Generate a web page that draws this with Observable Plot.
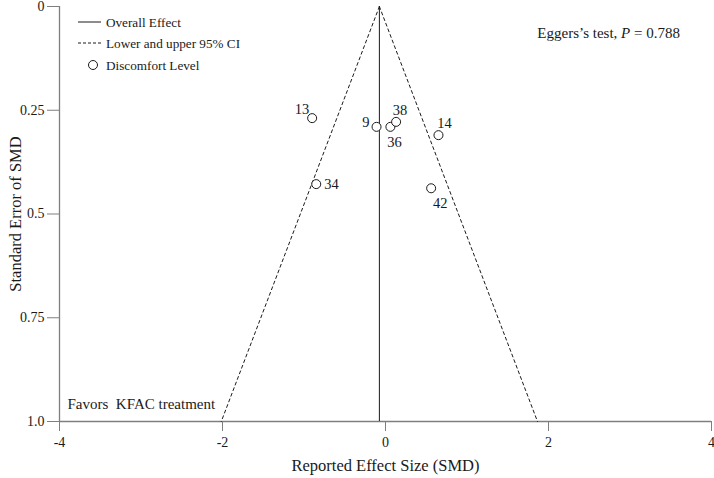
<!DOCTYPE html>
<html>
<head>
<meta charset="utf-8">
<script src="https://cdn.jsdelivr.net/npm/d3@7"></script>
<script src="https://cdn.jsdelivr.net/npm/@observablehq/plot@0.6"></script>
<style>
  html, body { margin: 0; padding: 0; background: white; }
</style>
</head>
<body>
<div id="chart"></div>
<script>
// ---- data ----
const studies = ["13", "9", "36", "38", "14", "34", "42"];
const smd = [-0.90, -0.11, 0.06, 0.13, 0.65, -0.85, 0.56];
const se = [0.269, 0.290, 0.290, 0.278, 0.310, 0.428, 0.438];
const overallEffect = -0.075;
const ciZ = 1.94;
const seRange = [0, 1];
const xTicks = [-4, -2, 0, 2, 4];
const xTickLabels = ["-4", "-2", "0", "2", "4"];
const yTicks = [0, 0.25, 0.5, 0.75, 1];
const yTickLabels = ["0", "0.25", "0.5", "0.75", "1.0"];
const legendLabels = ["Overall Effect", "Lower and upper 95% CI", "Discomfort Level"];
const xTitle = "Reported Effect Size (SMD)";
const yTitle = "Standard Error of SMD";
const noteText = "Favors  KFAC treatment";
const eggerPrefix = "Eggers\u2019s test, ";
const eggerP = "0.788";

// label placement (offsets from each circle)
const labelDx = [-3, -7, 4, 4, 6, 8, 9];
const labelDy = [-9, -4, 16, -12, -12, 0, 15];
const labelAnchor = ["end", "end", "middle", "middle", "middle", "start", "middle"];

const pts = studies.map((s, i) => ({study: s, smd: smd[i], se: se[i]}));
const leftCI = seRange.map(s => ({x: overallEffect - ciZ * s, y: s}));
const rightCI = seRange.map(s => ({x: overallEffect + ciZ * s, y: s}));

const ink = "#1a1a1a";
const axisGray = "#7f7f7f";

const labelMarks = pts.map((p, i) => Plot.text([p], {
  x: "smd", y: "se", text: "study",
  dx: labelDx[i], dy: labelDy[i], textAnchor: labelAnchor[i],
  fontSize: 14.5, fill: ink
}));

function legendMark(index, scales, values, dimensions) {
  const g = d3.create("svg:g")
    .attr("font-family", "Liberation Serif")
    .attr("font-size", 13.2)
    .attr("text-anchor", "start")
    .attr("fill", ink);
  const x0 = dimensions.marginLeft + 19;
  const rows = [22, 43, 65];
  g.append("line").attr("x1", x0).attr("x2", x0 + 23).attr("y1", rows[0]).attr("y2", rows[0])
    .attr("stroke", ink).attr("stroke-width", 1);
  g.append("line").attr("x1", x0).attr("x2", x0 + 23).attr("y1", rows[1]).attr("y2", rows[1])
    .attr("stroke", ink).attr("stroke-width", 1).attr("stroke-dasharray", "3,2");
  g.append("circle").attr("cx", x0 + 15).attr("cy", rows[2]).attr("r", 4.5)
    .attr("fill", "white").attr("stroke", ink).attr("stroke-width", 1);
  legendLabels.forEach((t, i) => {
    g.append("text").attr("x", x0 + 28).attr("y", rows[i]).attr("dy", "0.35em")
      .attr("text-anchor", "start").text(t);
  });
  return g.node();
}

function eggerMark(index, scales, values, dimensions) {
  const g = d3.create("svg:g")
    .attr("font-family", "Liberation Serif")
    .attr("font-size", 15)
    .attr("fill", ink);
  const t = g.append("text")
    .attr("x", dimensions.width - 34)
    .attr("y", 33)
    .attr("dy", "0.35em")
    .attr("text-anchor", "end");
  t.append("tspan").text(eggerPrefix);
  t.append("tspan").attr("font-style", "italic").text("P");
  t.append("tspan").text(" = " + eggerP);
  return g.node();
}

const chart = Plot.plot({
  width: 714,
  height: 478,
  marginLeft: 59,
  marginRight: 3,
  marginTop: 6,
  marginBottom: 57,
  style: {fontFamily: "Liberation Serif", fontSize: "14px", color: ink, background: "white"},
  x: {domain: [-4, 4]},
  y: {domain: [0, 1], reverse: true},
  marks: [
    Plot.ruleX([-4], {stroke: axisGray, strokeWidth: 1.3}),
    Plot.ruleY([1], {stroke: axisGray, strokeWidth: 1.3}),
    Plot.axisX({
      ticks: xTicks, tickSize: 10, tickPadding: 6, stroke: axisGray, fill: ink,
      tickFormat: d => xTickLabels[xTicks.indexOf(d)], label: null, fontSize: 14
    }),
    Plot.axisY({
      ticks: yTicks, tickSize: 12, tickPadding: 3, stroke: axisGray, fill: ink,
      tickFormat: d => yTickLabels[yTicks.indexOf(d)], label: null, fontSize: 14
    }),
    Plot.ruleX([overallEffect], {y1: seRange[0], y2: seRange[1], stroke: ink, strokeWidth: 1}),
    Plot.line(leftCI, {x: "x", y: "y", stroke: ink, strokeWidth: 1, strokeDasharray: "3,3"}),
    Plot.line(rightCI, {x: "x", y: "y", stroke: ink, strokeWidth: 1, strokeDasharray: "3,3"}),
    Plot.dot(pts, {x: "smd", y: "se", r: 4.5, fill: "white", stroke: ink, strokeWidth: 1}),
    ...labelMarks,
    Plot.text([xTitle], {frameAnchor: "bottom", dy: 49, textAnchor: "middle", fontSize: 16.5, fill: ink}),
    Plot.text([yTitle], {frameAnchor: "left", dx: -44, rotate: -90, textAnchor: "middle", fontSize: 16.5, fill: ink}),
    Plot.text([noteText], {frameAnchor: "bottom-left", dx: 8, dy: -13, textAnchor: "start", fontSize: 15, fill: ink}),
    legendMark,
    eggerMark
  ]
});
document.getElementById("chart").appendChild(chart);
</script>
</body>
</html>
